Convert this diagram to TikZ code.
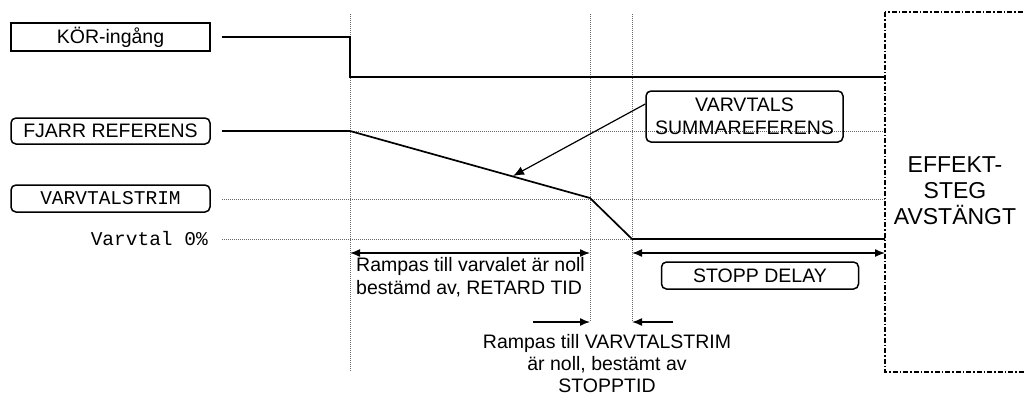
\documentclass[tikz,border=0pt]{standalone}
\usepackage{fontspec}
\setmainfont{Liberation Sans}
\setmonofont{Liberation Mono}
\usetikzlibrary{arrows.meta}
\begin{document}
\begin{tikzpicture}[x=1pt,y=-1pt,
  lbl/.style={font=\fontsize{19.5}{22.5}\selectfont, inner sep=0pt},
  mono/.style={font=\ttfamily\fontsize{19.5}{22.5}\selectfont, inner sep=0pt},
  sbox/.style={draw, line width=1.5pt, minimum width=199pt, minimum height=28pt, inner sep=0pt},
  rbox/.style={sbox, rounded corners=5pt},
  sig/.style={line width=1.7pt},
  grid/.style={draw=black!60, line width=0.8pt, dash pattern=on 1pt off 1pt},
  arr/.style={line width=1.4pt, -{Latex[length=10pt,width=8pt]}},
  darr/.style={line width=1.4pt, {Latex[length=10pt,width=8pt]}-{Latex[length=10pt,width=8pt]}},
  dashdot/.style={line width=1.6pt, dash pattern=on 5pt off 2pt on 1.5pt off 2pt}
]
\useasboundingbox (0,0) rectangle (1025,397);

% grid lines
\coordinate (t1) at (350,14);
\coordinate (b1) at (350,372);
\coordinate (t2) at (590,14);
\coordinate (b2) at (590,322);
\coordinate (t3) at (632,14);
\coordinate (b3) at (632,322);
\draw[grid] (t1) -- (b1);
\draw[grid] (t2) -- (b2);
\draw[grid] (t3) -- (b3);
\coordinate (g1a) at (350,131);
\coordinate (g1b) at (885,131);
\coordinate (g2a) at (222,199);
\coordinate (g2b) at (885,199);
\coordinate (g3a) at (222,239);
\coordinate (g3b) at (632,239);
\draw[grid] (g1a) -- (g1b);
\draw[grid] (g2a) -- (g2b);
\draw[grid] (g3a) -- (g3b);

% left labels
\node[sbox, lbl] (kor) at (110.5,37) {KÖR-ingång};
\node[rbox, lbl, minimum height=26pt] (fjarr) at (110.5,131) {FJARR REFERENS};
\node[rbox, mono, minimum height=27pt] (trim) at (110.5,198.5) {VARVTALSTRIM};
\node[mono, anchor=east] (v0) at (208,239) {Varvtal 0\%};

% KÖR signal
\coordinate (k0) at (222,37);
\coordinate (k1) at (350,37);
\coordinate (k2) at (350,77);
\coordinate (k3) at (885,77);
\draw[sig] (k0) -- (k1) -- (k2) -- (k3);

% speed signal
\coordinate (f0) at (222,131);
\coordinate (f1) at (350,131);
\coordinate (f2) at (590,198);
\coordinate (f3) at (632,239);
\coordinate (f4) at (885,239);
\draw[sig] (f0) -- (f1) -- (f2) -- (f3) -- (f4);

% summareferens
\node[rbox, lbl, minimum width=197pt, minimum height=51pt, align=center] (summa) at (744.5,116.5) {VARVTALS\\SUMMAREFERENS};
\coordinate (sa) at (513,176);
\draw[line width=1.2pt, -{Latex[length=11pt,width=9pt]}] (summa.west |- 0,104) -- (sa);

% power stage box
\coordinate (e0) at (885,12);
\coordinate (e1) at (1040,372);
\draw[dashdot] (e0) rectangle (e1);
\node[font=\fontsize{23}{26}\selectfont, align=center, inner sep=0pt] (eff) at (955,191) {EFFEKT-\\STEG\\AVSTÄNGT};

% dimension arrows
\coordinate (r0) at (350,253);
\coordinate (r1) at (590,253);
\draw[darr] (r0) -- (r1);
\coordinate (s0) at (632,253);
\coordinate (s1) at (885,253);
\draw[darr] (s0) -- (s1);
\node[rbox, lbl, minimum width=197pt, minimum height=27pt] (stopp) at (760,275.5) {STOPP DELAY};
\node[lbl, align=left, anchor=west] (ramp1) at (356,277) {Rampas till varvalet är noll\\bestämd av, RETARD TID};

\coordinate (p0) at (533,322);
\coordinate (p1) at (590,322);
\coordinate (q0) at (673,322);
\coordinate (q1) at (632,322);
\draw[arr] (p0) -- (p1);
\draw[arr] (q0) -- (q1);
\node[font=\fontsize{19.5}{22}\selectfont, inner sep=0pt, align=center] (ramp2) at (607,364) {Rampas till VARVTALSTRIM\\är noll, bestämt av\\STOPPTID};
\end{tikzpicture}
\end{document}
